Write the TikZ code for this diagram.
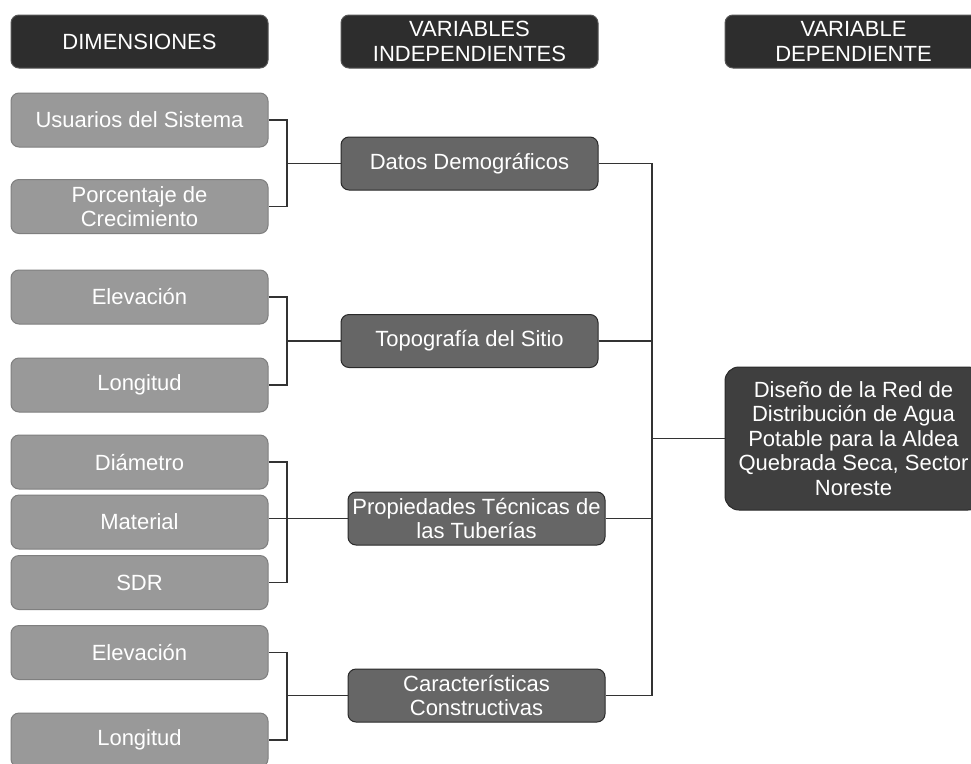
\documentclass[tikz,border=0pt]{standalone}
\usepackage{fontspec}
\setmainfont{Liberation Sans}
\usepackage{tikz}
\usetikzlibrary{calc}

\definecolor{gristitulo}{HTML}{2D2D2D}
\definecolor{grisclaro}{HTML}{999999}
\definecolor{grisclaroborde}{HTML}{7F7F7F}
\definecolor{grismedio}{HTML}{666666}
\definecolor{grisdep}{HTML}{3F3F3F}
\definecolor{grisborde}{HTML}{2A2A2A}
\definecolor{linea}{HTML}{333333}

\tikzset{
    caja/.style={rounded corners=8pt, minimum width=257pt, minimum height=54pt, inner sep=2pt,
        text=white, align=center, line width=1pt, font=\fontsize{22}{24.5}\selectfont},
    titulo/.style={caja, minimum height=53pt, fill=gristitulo, draw=grisborde!80!white},
    dimension/.style={caja, fill=grisclaro, draw=grisclaroborde},
    varind/.style={caja, minimum height=53pt, fill=grismedio, draw=grisborde},
    enlace/.style={draw=linea, line width=1.4pt}
}

\begin{document}
\begin{tikzpicture}[x=1pt,y=-1pt]
            \fill[white] (0,0) rectangle (971,763);
            \useasboundingbox (0,0) rectangle (971,763);
            \coordinate (sp) at (287,0);
            \coordinate (tr) at (652,0);
            \node[titulo] (tdim) at (139.5,41.5) {DIMENSIONES};
            \node[titulo] (tind) at (469.5,41.5) {VARIABLES\\INDEPENDIENTES};
            \node[titulo] (tdep) at (853.5,41.5) {VARIABLE\\DEPENDIENTE};
            \node[dimension] (usu) at (139.5,120) {Usuarios del Sistema};
            \node[dimension] (por) at (139.5,206.5) {Porcentaje de\\Crecimiento};
            \node[dimension] (ele1) at (139.5,297) {Elevación};
            \node[dimension] (lon1) at (139.5,385) {Longitud};
            \node[dimension] (dia) at (139.5,462) {Diámetro};
            \node[dimension] (mat) at (139.5,522) {Material};
            \node[dimension] (sdr) at (139.5,582.5) {SDR};
            \node[dimension] (ele2) at (139.5,652.5) {Elevación};
            \node[dimension] (lon2) at (139.5,740) {Longitud};
            \node[varind] (dat) at (469.5,163.5) {Datos Demográficos};
            \node[varind] (top) at (469.5,341) {Topografía del Sitio};
            \node[varind] (pro) at (476.5,518.5) {Propiedades Técnicas de\\las Tuberías};
            \node[varind] (car) at (476.5,695.5) {Características\\Constructivas};
            \node[caja, rounded corners=14pt, minimum height=143pt, fill=grisdep, draw=grisborde] (dis) at (853.5,438.5)
                {Diseño de la Red de\\Distribución de Agua\\Potable para la Aldea\\Quebrada Seca, Sector\\Noreste};
            \draw[enlace] (usu.east) -- (usu.east -| sp) -- (por.east -| sp) -- (por.east);
            \draw[enlace] (dat.west) -- (dat.west -| sp);
            \draw[enlace] (ele1.east) -- (ele1.east -| sp) -- (lon1.east -| sp) -- (lon1.east);
            \draw[enlace] (top.west) -- (top.west -| sp);
            \draw[enlace] (dia.east) -- (dia.east -| sp) -- (sdr.east -| sp) -- (sdr.east);
            % \draw[enlace] (mat.east) -- (mat.east -| sp);
            \draw[enlace] (mat.east |- pro.west) -- (pro.west);
            \draw[enlace] (ele2.east) -- (ele2.east -| sp) -- (lon2.east -| sp) -- (lon2.east);
            \draw[enlace] (car.west) -- (car.west -| sp);
            \draw[enlace] (dat.east) -- (dat.east -| tr) -- (car.east -| tr) -- (car.east);
            \draw[enlace] (top.east) -- (top.east -| tr);
            \draw[enlace] (pro.east) -- (pro.east -| tr);
            \draw[enlace] (dis.west) -- (dis.west -| tr);
        \end{tikzpicture}
\end{document}
